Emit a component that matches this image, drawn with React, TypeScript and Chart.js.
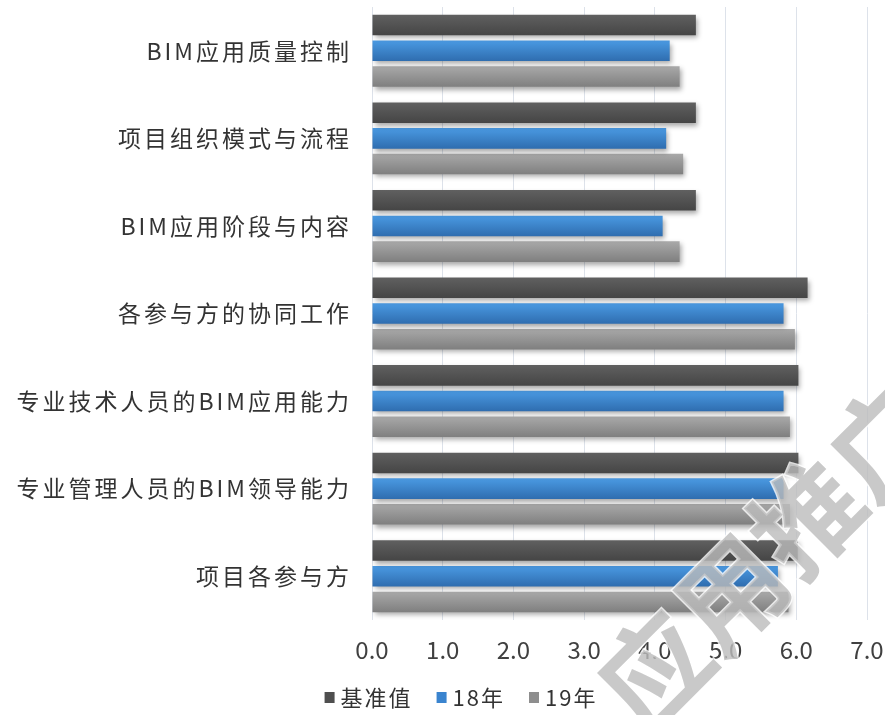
import React, { useEffect, useRef } from 'react';
import { Chart, registerables } from 'chart.js';

Chart.register(...registerables);

const categories = [
  'BIM应用质量控制',
  '项目组织模式与流程',
  'BIM应用阶段与内容',
  '各参与方的协同工作',
  '专业技术人员的BIM应用能力',
  '专业管理人员的BIM领导能力',
  '项目各参与方',
];
const seriesNames = ['基准值', '18年', '19年'];
const baseline = [4.58, 4.58, 4.58, 6.16, 6.03, 6.03, 6.02];
const year18 = [4.21, 4.16, 4.11, 5.82, 5.82, 5.82, 5.74];
const year19 = [4.35, 4.4, 4.35, 5.98, 5.91, 5.91, 5.89];
const xMin = 0;
const xMax = 7;
const xStep = 1;
const watermarkText = '应用推广';

const CAT = 0.88;
const BAR = 0.8;
const FONT = "'Noto Sans CJK SC', 'Noto Sans', sans-serif";

const palettes = [
  { top: '#606060', bottom: '#454545', solid: '#4f4f4f' },
  { top: '#4a9ae3', bottom: '#2f6daf', solid: '#3a84cf' },
  { top: '#a9a9a9', bottom: '#7f7f7f', solid: '#8e8e8e' },
];

const gradientFor = (p: { top: string; bottom: string }) => (c: any) => {
  const chart = c.chart;
  const y = chart.scales && chart.scales.y;
  if (!y || c.dataIndex === undefined || !chart.chartArea) return p.top;
  const band = (y.bottom - y.top) / categories.length;
  const slot = (band * CAT) / 3;
  const center = y.getPixelForValue(c.dataIndex);
  const start = center - (band * CAT) / 2 + slot * c.datasetIndex + (slot * (1 - BAR)) / 2;
  const end = start + slot * BAR;
  const g = chart.ctx.createLinearGradient(0, start, 0, end);
  g.addColorStop(0, p.top);
  g.addColorStop(1, p.bottom);
  return g;
};

const shadowPlugin = {
  id: 'barShadow',
  beforeDatasetsDraw(chart: any) {
    const ctx = chart.ctx;
    ctx.save();
    ctx.shadowColor = 'rgba(0,0,0,0.35)';
    ctx.shadowBlur = 5;
    ctx.shadowOffsetX = 2;
    ctx.shadowOffsetY = 3;
  },
  afterDatasetsDraw(chart: any) {
    chart.ctx.restore();
  },
};

const legendPlugin = {
  id: 'customLegend',
  afterDraw(chart: any) {
    const ctx = chart.ctx;
    ctx.save();
    ctx.font = `22px ${FONT}`;
    (ctx as any).letterSpacing = '2px';
    ctx.textBaseline = 'middle';
    const box = 10;
    const gapText = 6;
    const gapItem = 24;
    const items = chart.data.datasets.map((d: any, i: number) => ({
      label: d.label,
      color: palettes[i].solid,
      w: ctx.measureText(d.label).width,
    }));
    const total = items.reduce((s: number, it: any) => s + box + gapText + it.w, 0) + gapItem * (items.length - 1);
    let x = 461 - total / 2;
    const cy = 697;
    items.forEach((it: any) => {
      ctx.fillStyle = it.color;
      ctx.fillRect(x, cy - box / 2, box, box + 1);
      x += box + gapText;
      ctx.fillStyle = '#333333';
      ctx.textAlign = 'left';
      ctx.fillText(it.label, x, cy + 1);
      x += it.w + gapItem;
    });
    ctx.restore();
  },
};

const watermarkPlugin = {
  id: 'watermark',
  afterDraw(chart: any) {
    const ctx = chart.ctx;
    ctx.save();
    ctx.translate(654, 670);
    ctx.rotate(-Math.PI / 4);
    ctx.font = `bold 108px ${FONT}`;
    ctx.textBaseline = 'middle';
    ctx.textAlign = 'left';
    ctx.lineWidth = 3;
    ctx.strokeStyle = 'rgba(255,255,255,0.8)';
    ctx.strokeText(watermarkText, -54, 0);
    ctx.fillStyle = 'rgba(188,188,188,0.8)';
    ctx.fillText(watermarkText, -54, 0);
    ctx.restore();
  },
};

export default function App() {
  const ref = useRef<HTMLCanvasElement | null>(null);

  useEffect(() => {
    document.body.style.margin = '0';
    if (!ref.current) return;
    const series = [baseline, year18, year19];
    const chart = new Chart(ref.current, {
      type: 'bar',
      data: {
        labels: categories,
        datasets: series.map((data, i) => ({
          label: seriesNames[i],
          data,
          backgroundColor: gradientFor(palettes[i]),
          borderWidth: 0,
          categoryPercentage: CAT,
          barPercentage: BAR,
        })),
      },
      options: {
        indexAxis: 'y',
        animation: false,
        responsive: true,
        maintainAspectRatio: false,
        layout: { padding: { left: 0, right: 18, top: 7, bottom: 45 } },
        plugins: {
          legend: { display: false },
          tooltip: { enabled: false },
        },
        scales: {
          x: {
            min: xMin,
            max: xMax,
            ticks: {
              stepSize: xStep,
              callback: (v: any) => Number(v).toFixed(1),
              font: { size: 24, family: FONT },
              color: '#404040',
              padding: 15,
            },
            grid: { color: '#dde2ea', lineWidth: 1, drawTicks: false },
            border: { display: false },
            afterFit: (scale: any) => {
              scale.height = 50;
              scale.paddingLeft = 0;
              scale.paddingRight = 0;
            },
          },
          y: {
            ticks: {
              autoSkip: false,
              font: { size: 23, family: FONT },
              color: '#333333',
              padding: 12,
            },
            grid: { display: false },
            border: { display: false },
            afterFit: (scale: any) => {
              scale.width = 372;
              scale.paddingTop = 0;
              scale.paddingBottom = 0;
              if (!scale.__patched) {
                const orig = scale.drawLabels.bind(scale);
                scale.drawLabels = (area: any) => {
                  const c = scale.ctx;
                  c.save();
                  c.letterSpacing = '3px';
                  orig(area);
                  c.restore();
                };
                scale.__patched = true;
              }
            },
          },
        },
      } as any,
      plugins: [shadowPlugin, legendPlugin, watermarkPlugin],
    });
    return () => chart.destroy();
  }, []);

  return (
    <div style={{ position: 'absolute', left: 0, top: 0, width: 885, height: 715 }}>
      <canvas ref={ref} />
    </div>
  );
}
